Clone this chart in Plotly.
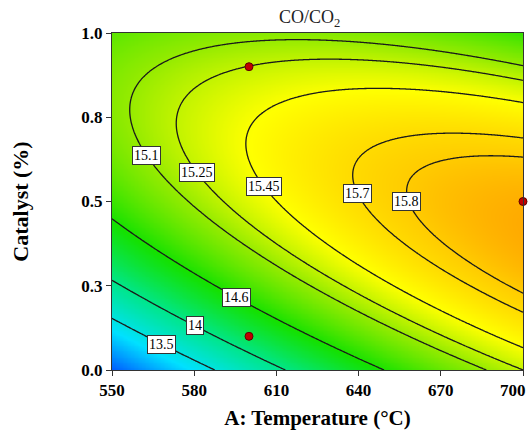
import numpy as np
import plotly.graph_objects as go

# Quadratic response-surface model in coded units
# A = (T - 625) / 75, B = (C - 0.5) / 0.5
# z = b0 + a1*A + a2*B + a12*A*B + a11*A^2 + a22*B^2
b0, a1, a2, a12, a11, a22 = 15.58, 0.607, 0.416, -0.684, -0.25, -0.956

# Contour levels and where (in temperature) each label sits
levels = [13.5, 14.0, 14.6, 15.1, 15.25, 15.45, 15.7, 15.8]
level_text = ["13.5", "14", "14.6", "15.1", "15.25", "15.45", "15.7", "15.8"]
label_temp = [568.2, 580.3, 595.5, 562.7, 581.1, 605.5, 639.6, 657.4]

# Design points
pt_temp = [600, 600, 700]
pt_cat = [0.9, 0.1, 0.5]

x_ticks = [550, 580, 610, 640, 670, 700]
x_ticktext = ["550", "580", "610", "640", "670", ""]
y_ticks = [0.0, 0.25, 0.5, 0.75, 1.0]
y_ticktext = ["0.0", "0.3", "0.5", "0.8", "1.0"]


def model(T, C):
    A = (np.asarray(T) - 625.0) / 75.0
    B = (np.asarray(C) - 0.5) / 0.5
    return b0 + a1 * A + a2 * B + a12 * A * B + a11 * A ** 2 + a22 * B ** 2


def level_point(level, T):
    """Catalyst value on the lower branch of the contour at temperature T."""
    A = (T - 625.0) / 75.0
    qa = a22
    qb = a2 + a12 * A
    qc = b0 + a1 * A + a11 * A ** 2 - level
    disc = qb * qb - 4 * qa * qc
    roots = [(-qb + s * np.sqrt(disc)) / (2 * qa) for s in (1, -1)]
    B = min(roots)
    return 0.5 + 0.5 * B


T = np.linspace(550, 700, 301)
C = np.linspace(0, 1, 201)
TT, CC = np.meshgrid(T, C)
Z = model(TT, CC)

colorscale = [
    [0.00, "rgb(0,90,255)"],
    [0.20, "rgb(0,225,255)"],
    [0.40, "rgb(0,230,140)"],
    [0.58, "rgb(20,225,0)"],
    [0.74, "rgb(150,235,0)"],
    [0.85, "rgb(255,255,0)"],
    [0.95, "rgb(255,205,0)"],
    [1.00, "rgb(255,170,0)"],
]

fig = go.Figure()
fig.add_trace(go.Heatmap(x=T, y=C, z=Z, colorscale=colorscale, zsmooth="best",
                         showscale=False, hoverinfo="skip"))

for lv in levels:
    fig.add_trace(go.Contour(
        x=T, y=C, z=Z, showscale=False, hoverinfo="skip",
        contours=dict(start=lv, end=lv, size=1, coloring="none"),
        line=dict(color="#1a1a1a", width=1.3),
    ))

fig.add_trace(go.Scatter(
    x=pt_temp, y=pt_cat, mode="markers", cliponaxis=False,
    marker=dict(size=8, color="#c00000", line=dict(color="#600000", width=1)),
    hoverinfo="skip",
))

serif = "Liberation Serif, Times New Roman, serif"
for lv, txt, t in zip(levels, level_text, label_temp):
    fig.add_annotation(
        x=t, y=level_point(lv, t), text=txt, showarrow=False,
        font=dict(family=serif, size=14, color="black"),
        bgcolor="white", bordercolor="#333333", borderwidth=1, borderpad=1,
    )

tick_font = dict(family=serif, size=17, color="black", weight="bold")

# last x tick label sits just inside the figure's right edge
fig.add_annotation(x=700, y=0, xref="x", yref="y", text="700", showarrow=False,
                   xanchor="center", yanchor="middle", xshift=-10, yshift=-20,
                   font=tick_font)

# chart title above the plot area
fig.add_annotation(x=(310 - 112) / 412, y=1 + (33 - 18) / 339, xref="paper", yref="paper",
                   text="CO/CO<sub>2</sub>", showarrow=False,
                   xanchor="center", yanchor="middle",
                   font=dict(family=serif, size=18, color="#222222"))

axis_common = dict(
    showline=True, linecolor="#333333", linewidth=1, mirror=True,
    ticks="outside", ticklen=5, tickcolor="#333333", showgrid=False, zeroline=False,
    tickfont=tick_font,
)

fig.update_layout(
    width=529, height=430,
    margin=dict(l=112, r=5, t=33, b=58),
    paper_bgcolor="white", plot_bgcolor="white",
    showlegend=False,
    xaxis=dict(range=[550, 700], tickvals=x_ticks, ticktext=x_ticktext,
               title=dict(text="A: Temperature (°C)", standoff=10,
                          font=dict(family=serif, size=21, color="black", weight="bold")),
               **axis_common),
    yaxis=dict(range=[0, 1], tickvals=y_ticks, ticktext=y_ticktext,
               title=dict(text="Catalyst (%)", standoff=46,
                          font=dict(family=serif, size=22, color="black", weight="bold")),
               **axis_common),
)

fig.write_html("out.html")
